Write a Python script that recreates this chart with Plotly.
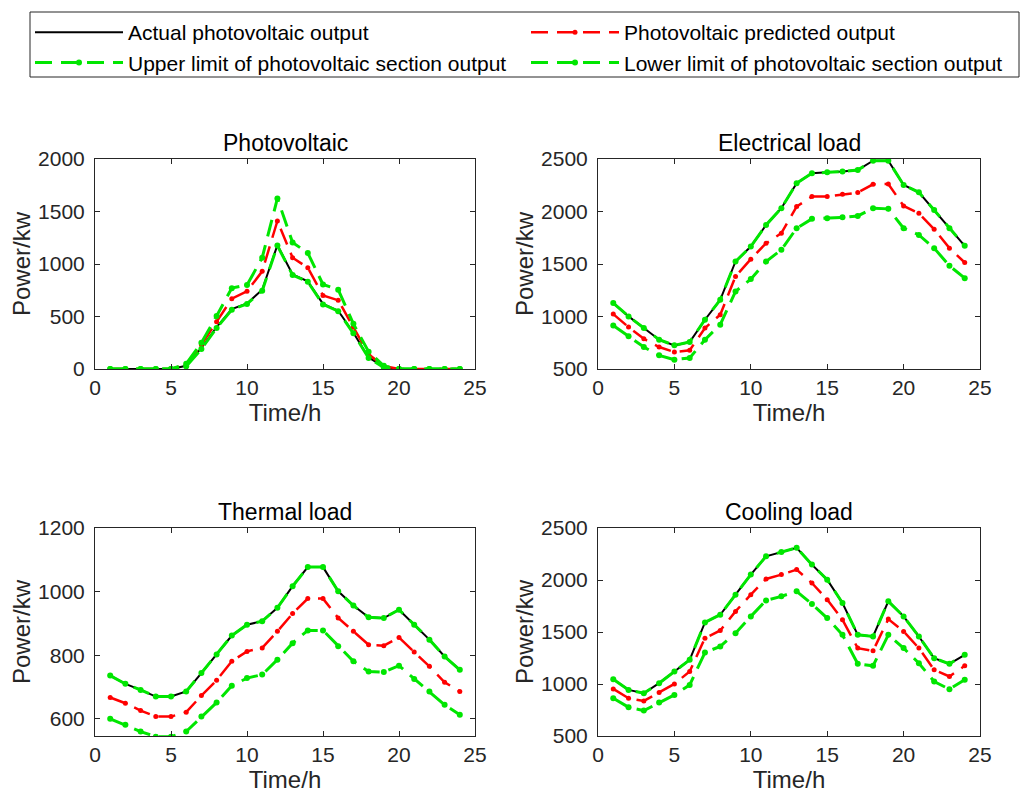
import plotly.graph_objects as go

hours = list(range(1, 25))

# Photovoltaic
pv_actual = [0, 0, 0, 0, 0, 30, 200, 400, 570, 625, 755, 1180, 900, 835, 620, 555, 345, 110, 20, 0, 0, 0, 0, 0]
pv_pred   = [0, 0, 0, 0, 0, 40, 230, 450, 670, 740, 930, 1410, 1060, 965, 700, 655, 400, 140, 30, 0, 0, 0, 0, 0]
pv_upper  = [0, 0, 0, 0, 0, 50, 250, 505, 770, 800, 1060, 1625, 1205, 1105, 805, 755, 430, 165, 30, 0, 0, 0, 0, 0]
pv_lower  = [0, 0, 0, 0, 0, 25, 190, 390, 565, 620, 745, 1175, 895, 830, 615, 550, 340, 105, 15, 0, 0, 0, 0, 0]

# Electrical load
el_actual = [1128, 1001, 890, 779, 725, 757, 969, 1159, 1524, 1666, 1872, 2031, 2269, 2364, 2373, 2380, 2395, 2484, 2484, 2253, 2183, 2015, 1841, 1673]
el_pred   = [1023, 899, 788, 709, 662, 678, 890, 1017, 1381, 1546, 1698, 1793, 2047, 2142, 2142, 2164, 2180, 2259, 2262, 2053, 1983, 1831, 1651, 1514]
el_lower  = [915, 811, 709, 630, 589, 605, 779, 922, 1239, 1356, 1524, 1635, 1841, 1930, 1936, 1945, 1958, 2031, 2025, 1841, 1777, 1651, 1483, 1365]

# Thermal load
th_actual = [736, 710, 691, 670, 670, 686, 744, 802, 862, 896, 907, 949, 1017, 1077, 1077, 1001, 956, 919, 917, 943, 896, 849, 796, 754]
th_pred   = [667, 649, 626, 607, 607, 621, 673, 721, 781, 812, 823, 875, 931, 978, 978, 917, 875, 833, 830, 856, 810, 765, 715, 686]
th_lower  = [600, 581, 560, 544, 544, 560, 607, 651, 704, 728, 739, 786, 838, 878, 878, 828, 781, 749, 747, 767, 725, 686, 644, 613]

# Cooling load
co_actual = [1046, 943, 911, 1008, 1120, 1232, 1592, 1666, 1859, 2052, 2228, 2270, 2309, 2148, 2003, 1779, 1473, 1457, 1795, 1650, 1457, 1248, 1194, 1281]
co_pred   = [953, 863, 837, 918, 1001, 1120, 1441, 1515, 1698, 1859, 2010, 2052, 2100, 1971, 1811, 1618, 1345, 1319, 1624, 1505, 1345, 1136, 1072, 1175]
co_lower  = [863, 776, 744, 821, 895, 991, 1303, 1361, 1489, 1650, 1804, 1843, 1891, 1769, 1634, 1473, 1194, 1175, 1473, 1345, 1200, 1024, 950, 1040]

titles = ["Photovoltaic", "Electrical load", "Thermal load", "Cooling load"]
series = [
    (pv_actual, pv_pred, pv_upper, pv_lower),
    (el_actual, el_pred, el_actual, el_lower),
    (th_actual, th_pred, th_actual, th_lower),
    (co_actual, co_pred, co_actual, co_lower),
]
yranges = [[0, 2000], [500, 2500], [546, 1200], [500, 2500]]
ytickvals = [[0, 500, 1000, 1500, 2000], [500, 1000, 1500, 2000, 2500],
             [600, 800, 1000, 1200], [500, 1000, 1500, 2000, 2500]]
xtickvals = [0, 5, 10, 15, 20, 25]
names = ["Actual photovoltaic output", "Photovoltaic predicted output",
         "Upper limit of photovoltaic section output", "Lower limit of photovoltaic section output"]

W, H = 1022, 796
xdoms = [[95 / W, 475 / W], [598 / W, 980 / W]]
ydoms = [[1 - 369 / H, 1 - 159 / H], [1 - 736 / H, 1 - 528 / H]]

GREEN = "#00e600"
RED = "#ff0000"
FONT = "Liberation Sans, Arial, sans-serif"
TXT = "#262626"
DASH = "17px,9px"

fig = go.Figure()
for i in range(4):
    r, c = divmod(i, 2)
    ax = "" if i == 0 else str(i + 1)
    xa, ya = "x" + ax, "y" + ax
    act, pred, up, low = series[i]
    show = i == 0
    fig.add_trace(go.Scatter(x=hours, y=act, mode="lines", name=names[0], legend="legend",
                             line=dict(color="black", width=2), xaxis=xa, yaxis=ya, showlegend=show))
    fig.add_trace(go.Scatter(x=hours, y=pred, mode="lines+markers", name=names[1], legend="legend2",
                             line=dict(color=RED, width=2.5, dash=DASH),
                             marker=dict(color=RED, size=5), xaxis=xa, yaxis=ya, showlegend=show))
    fig.add_trace(go.Scatter(x=hours, y=up, mode="lines+markers", name=names[2], legend="legend",
                             line=dict(color=GREEN, width=3, dash=DASH),
                             marker=dict(color=GREEN, size=6), xaxis=xa, yaxis=ya, showlegend=show))
    fig.add_trace(go.Scatter(x=hours, y=low, mode="lines+markers", name=names[3], legend="legend2",
                             line=dict(color=GREEN, width=3, dash=DASH),
                             marker=dict(color=GREEN, size=6), xaxis=xa, yaxis=ya, showlegend=show))
    axcommon = dict(showgrid=False, zeroline=False, showline=True, linecolor="#262626", linewidth=1,
                    mirror="ticks", ticks="inside", ticklen=5, tickcolor="#262626", automargin=False,
                    tickfont=dict(family=FONT, size=21, color=TXT))
    fig.layout["xaxis" + ax] = dict(domain=xdoms[c], range=[0, 25], tickvals=xtickvals,
                                    anchor=ya, title=dict(text="Time/h", font=dict(family=FONT, size=24, color=TXT), standoff=5),
                                    **axcommon)
    fig.layout["yaxis" + ax] = dict(domain=ydoms[r], range=yranges[i], tickvals=ytickvals[i],
                                    anchor=xa, title=dict(text="Power/kw", font=dict(family=FONT, size=24, color=TXT), standoff=0),
                                    ticklabelstandoff=5, **axcommon)
    fig.add_annotation(text=titles[i], x=sum(xdoms[c]) / 2, y=ydoms[r][1], xref="paper", yref="paper",
                       xanchor="center", yanchor="bottom", yshift=1, showarrow=False,
                       font=dict(family=FONT, size=23, color="black"))

# legend frame
fig.add_shape(type="rect", xref="paper", yref="paper", x0=30 / W, x1=1019 / W, y0=1 - 77 / H, y1=1 - 12 / H,
              line=dict(color="#262626", width=1), fillcolor="rgba(0,0,0,0)", layer="above")

legcommon = dict(orientation="v", yanchor="top", xanchor="left", itemwidth=88, borderwidth=0,
                 bgcolor="rgba(0,0,0,0)", font=dict(family=FONT, size=21, color="black"),
                 tracegroupgap=0, traceorder="normal")
fig.update_layout(
    width=W, height=H, margin=dict(l=0, r=0, t=0, b=0, autoexpand=False),
    paper_bgcolor="white", plot_bgcolor="white",
    legend=dict(x=30 / W, y=1 - 12 / H, **legcommon),
    legend2=dict(x=526 / W, y=1 - 12 / H, **legcommon),
)
fig.write_html("out.html")
